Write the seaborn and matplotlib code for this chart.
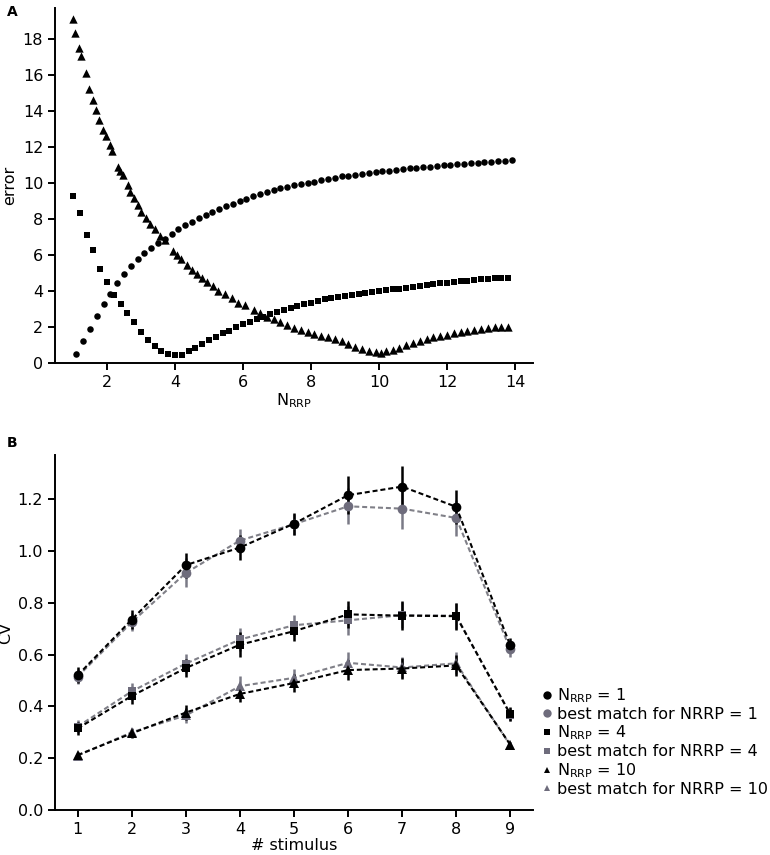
import numpy as np
import pandas as pd
import matplotlib
matplotlib.use("Agg")
import matplotlib.pyplot as plt
from matplotlib.lines import Line2D
import seaborn as sns

# ---------------- Panel A data ----------------
circ_x = [1.1, 1.3, 1.5, 1.7, 1.9, 2.1, 2.3, 2.5, 2.7, 2.9, 3.1, 3.3, 3.5, 3.7, 3.9,
          4.1, 4.3, 4.5, 4.7, 4.9, 5.1, 5.3, 5.5, 5.7, 5.9, 6.1, 6.3, 6.5, 6.7, 6.9,
          7.1, 7.3, 7.5, 7.7, 7.9, 8.1, 8.3, 8.5, 8.7, 8.9, 9.1, 9.3, 9.5, 9.7, 9.9,
          10.1, 10.3, 10.5, 10.7, 10.9, 11.1, 11.3, 11.5, 11.7, 11.9, 12.1, 12.3, 12.5,
          12.7, 12.9, 13.1, 13.3, 13.5, 13.7, 13.9]
circ_y = [0.5, 1.2, 1.9, 2.6, 3.25, 3.85, 4.45, 4.95, 5.4, 5.75, 6.1, 6.4, 6.65, 6.9, 7.15,
          7.45, 7.65, 7.85, 8.05, 8.2, 8.38, 8.55, 8.7, 8.85, 8.98, 9.12, 9.27, 9.38, 9.5, 9.6,
          9.7, 9.78, 9.86, 9.93, 10.0, 10.07, 10.14, 10.2, 10.28, 10.35, 10.4, 10.46, 10.5, 10.55, 10.6,
          10.63, 10.68, 10.72, 10.76, 10.8, 10.84, 10.87, 10.9, 10.93, 10.96, 10.99, 11.02, 11.05,
          11.08, 11.1, 11.13, 11.16, 11.2, 11.22, 11.28]

sq_x = [1.0, 1.2, 1.4, 1.6, 1.8, 2.0, 2.2, 2.4, 2.6, 2.8, 3.0, 3.2, 3.4, 3.6, 3.8,
        4.0, 4.2, 4.4, 4.6, 4.8, 5.0, 5.2, 5.4, 5.6, 5.8, 6.0, 6.2, 6.4, 6.6, 6.8,
        7.0, 7.2, 7.4, 7.6, 7.8, 8.0, 8.2, 8.4, 8.6, 8.8, 9.0, 9.2, 9.4, 9.6, 9.8,
        10.0, 10.2, 10.4, 10.6, 10.8, 11.0, 11.2, 11.4, 11.6, 11.8, 12.0, 12.2, 12.4,
        12.6, 12.8, 13.0, 13.2, 13.4, 13.6, 13.8]
sq_y = [9.25, 8.3, 7.1, 6.25, 5.2, 4.5, 3.8, 3.25, 2.8, 2.25, 1.7, 1.3, 0.95, 0.68, 0.48,
        0.42, 0.45, 0.64, 0.85, 1.05, 1.25, 1.45, 1.64, 1.8, 1.98, 2.15, 2.3, 2.42, 2.55, 2.73,
        2.85, 2.95, 3.05, 3.15, 3.25, 3.33, 3.43, 3.53, 3.62, 3.68, 3.74, 3.8, 3.85, 3.89, 3.93,
        3.98, 4.03, 4.08, 4.13, 4.18, 4.23, 4.28, 4.32, 4.37, 4.42, 4.46, 4.5, 4.53,
        4.57, 4.61, 4.64, 4.67, 4.7, 4.72, 4.73]

tri_x = [1.0, 1.07, 1.17, 1.23, 1.37, 1.48, 1.59, 1.69, 1.76, 1.88, 1.96, 2.08, 2.15,
         2.31, 2.37, 2.47, 2.62, 2.69, 2.8, 2.9, 3.01, 3.14, 3.26, 3.41, 3.55, 3.7,
         3.95, 4.05, 4.19, 4.34, 4.49, 4.64, 4.78, 4.93, 5.13, 5.27, 5.47, 5.67, 5.86,
         6.06, 6.31, 6.5, 6.7, 6.9, 7.1, 7.3, 7.5, 7.7, 7.9, 8.1, 8.3, 8.5, 8.7, 8.9,
         9.1, 9.3, 9.5, 9.7, 9.9, 10.05, 10.2, 10.4, 10.6, 10.8, 11.0, 11.2, 11.4, 11.6,
         11.8, 12.0, 12.2, 12.4, 12.6, 12.8, 13.0, 13.2, 13.4, 13.6, 13.8]
tri_y = [19.1, 18.3, 17.5, 17.05, 16.1, 15.2, 14.6, 14.05, 13.5, 12.95, 12.6, 12.1, 11.75,
         10.85, 10.65, 10.45, 9.85, 9.5, 9.15, 8.75, 8.38, 8.04, 7.73, 7.41, 7.07, 6.8,
         6.2, 6.0, 5.75, 5.45, 5.17, 4.93, 4.71, 4.47, 4.25, 4.02, 3.82, 3.58, 3.35,
         3.2, 2.95, 2.75, 2.55, 2.42, 2.28, 2.12, 1.96, 1.82, 1.7, 1.62, 1.52, 1.42, 1.32, 1.22,
         1.08, 0.9, 0.75, 0.64, 0.6, 0.58, 0.64, 0.72, 0.85, 0.98, 1.1, 1.22, 1.33, 1.43,
         1.5, 1.57, 1.65, 1.72, 1.78, 1.85, 1.9, 1.95, 1.99, 1.98, 2.0]

# ---------------- Panel B data ----------------
stimulus = [1, 2, 3, 4, 5, 6, 7, 8, 9]
n1_cv = [0.52, 0.735, 0.945, 1.013, 1.105, 1.215, 1.248, 1.17, 0.635]
n1_err = [0.03, 0.035, 0.048, 0.05, 0.042, 0.073, 0.078, 0.065, 0.03]
bm1_cv = [0.515, 0.725, 0.915, 1.04, 1.103, 1.172, 1.163, 1.127, 0.62]
bm1_err = [0.03, 0.035, 0.056, 0.045, 0.04, 0.07, 0.08, 0.07, 0.03]
n4_cv = [0.315, 0.44, 0.548, 0.638, 0.69, 0.755, 0.75, 0.748, 0.37]
n4_err = [0.026, 0.032, 0.036, 0.049, 0.039, 0.052, 0.055, 0.052, 0.026]
bm4_cv = [0.322, 0.458, 0.565, 0.658, 0.713, 0.732, 0.752, 0.75, 0.368]
bm4_err = [0.026, 0.032, 0.036, 0.045, 0.04, 0.055, 0.05, 0.05, 0.026]
n10_cv = [0.212, 0.296, 0.376, 0.448, 0.49, 0.54, 0.546, 0.558, 0.252]
n10_err = [0.01, 0.018, 0.03, 0.03, 0.036, 0.04, 0.04, 0.042, 0.01]
bm10_cv = [0.21, 0.3, 0.365, 0.478, 0.51, 0.568, 0.55, 0.566, 0.25]
bm10_err = [0.01, 0.018, 0.03, 0.04, 0.036, 0.042, 0.04, 0.042, 0.01]

legend_labels = [r"$\mathregular{N_{RRP}}$ = 1", "best match for NRRP = 1",
                 r"$\mathregular{N_{RRP}}$ = 4", "best match for NRRP = 4",
                 r"$\mathregular{N_{RRP}}$ = 10", "best match for NRRP = 10"]

# ---------------- Styling ----------------
sns.set_theme(style="ticks")
plt.rcParams["font.family"] = ["DejaVu Sans"]
plt.rcParams.update({
    "axes.linewidth": 1.4,
    "xtick.major.width": 1.4,
    "ytick.major.width": 1.4,
    "xtick.major.size": 5,
    "ytick.major.size": 5,
    "xtick.labelsize": 11.5,
    "ytick.labelsize": 11.5,
    "axes.labelsize": 11.5,
    "xtick.color": "black",
    "ytick.color": "black",
    "axes.edgecolor": "black",
    "axes.labelcolor": "black",
    "text.color": "black",
})

BLACK = "#000000"
GREY = "#6e6c7c"
GREY_LINE = "#808088"
GREY_BAR = "#7a7a86"

fig = plt.figure(figsize=(7.7, 8.55), dpi=100)
axA = fig.add_axes([55 / 770, 1 - 363 / 855, 478 / 770, 355 / 855])
axB = fig.add_axes([55 / 770, 1 - 810 / 855, 478 / 770, 355 / 855])

# ---- Panel A ----
dfc = pd.DataFrame({"x": circ_x, "y": circ_y})
dfs = pd.DataFrame({"x": sq_x, "y": sq_y})
dft = pd.DataFrame({"x": tri_x, "y": tri_y})
sns.scatterplot(data=dfc, x="x", y="y", ax=axA, marker="o", color=BLACK, s=22, linewidth=0, legend=False)
sns.scatterplot(data=dfs, x="x", y="y", ax=axA, marker="s", color=BLACK, s=20, linewidth=0, legend=False)
sns.scatterplot(data=dft, x="x", y="y", ax=axA, marker="^", color=BLACK, s=36, linewidth=0, legend=False)
axA.set_xlim(0.47, 14.53)
axA.set_ylim(0, 19.7)
axA.set_xticks([2, 4, 6, 8, 10, 12, 14])
axA.set_yticks([0, 2, 4, 6, 8, 10, 12, 14, 16, 18])
axA.set_xlabel(r"$\mathregular{N_{RRP}}$", labelpad=1)
axA.set_ylabel("error", labelpad=4)
sns.despine(ax=axA)

# ---- Panel B ----
series = [
    (bm1_cv, bm1_err, GREY, GREY_LINE, GREY_BAR, "o", 7),
    (n1_cv, n1_err, BLACK, BLACK, BLACK, "o", 7),
    (bm4_cv, bm4_err, GREY, GREY_LINE, GREY_BAR, "s", 6),
    (n4_cv, n4_err, BLACK, BLACK, BLACK, "s", 6),
    (bm10_cv, bm10_err, GREY, GREY_LINE, GREY_BAR, "^", 6.5),
    (n10_cv, n10_err, BLACK, BLACK, BLACK, "^", 6.5),
]
for vals, errs, c, cl, ce, m, ms in series:
    axB.errorbar(stimulus, vals, yerr=errs, fmt="none", ecolor=ce, elinewidth=1.8, capsize=0, zorder=2)
    sns.lineplot(x=stimulus, y=vals, ax=axB, color=cl, marker=m, markersize=ms,
                 markerfacecolor=c, markeredgewidth=0, linewidth=1.5, dashes=False, zorder=3)
    axB.lines[-1].set_dashes((2.4, 1.4))
axB.set_xlim(0.58, 9.42)
axB.set_ylim(0, 1.37)
axB.set_xticks(stimulus)
axB.set_yticks([0.0, 0.2, 0.4, 0.6, 0.8, 1.0, 1.2])
axB.set_yticklabels(["0.0", "0.2", "0.4", "0.6", "0.8", "1.0", "1.2"])
axB.set_xlabel("# stimulus", labelpad=1)
axB.set_ylabel("CV", labelpad=3)
sns.despine(ax=axB)

handles = [
    Line2D([], [], linestyle="none", marker="o", color=BLACK, markersize=6, markeredgewidth=0),
    Line2D([], [], linestyle="none", marker="o", color=GREY, markersize=6, markeredgewidth=0),
    Line2D([], [], linestyle="none", marker="s", color=BLACK, markersize=5, markeredgewidth=0),
    Line2D([], [], linestyle="none", marker="s", color=GREY, markersize=5, markeredgewidth=0),
    Line2D([], [], linestyle="none", marker="^", color=BLACK, markersize=5, markeredgewidth=0),
    Line2D([], [], linestyle="none", marker="^", color=GREY, markersize=5, markeredgewidth=0),
]
leg = axB.legend(handles, legend_labels, loc="lower left", bbox_to_anchor=(1.0, 0.01),
                 frameon=False, fontsize=11.5, handlelength=0.6, handletextpad=0.3,
                 labelspacing=0.12, borderaxespad=0.2)
for t in leg.get_texts():
    t.set_color("black")

fig.text(7 / 770, 1 - 12 / 855, "A", fontsize=10, fontweight="bold", va="center", ha="left")
fig.text(7 / 770, 1 - 443 / 855, "B", fontsize=10, fontweight="bold", va="center", ha="left")

fig.savefig("out.png", dpi=100)
